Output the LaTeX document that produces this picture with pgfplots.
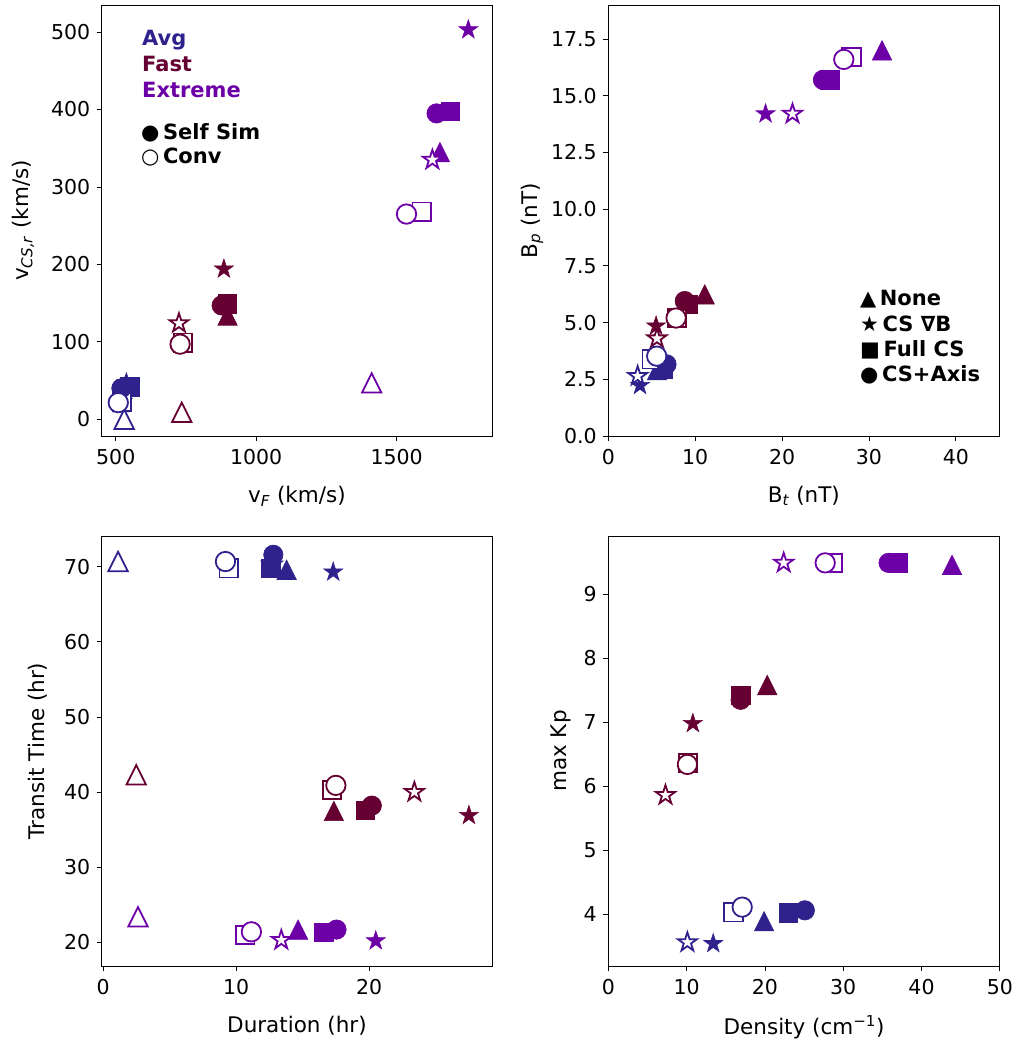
\documentclass[border=0pt]{standalone}
\usepackage{pgfplots}
\pgfplotsset{compat=1.18}
\usepackage{fontspec}
\setmainfont{DejaVu Sans}
\definecolor{cAvg}{RGB}{48,34,140}
\definecolor{cFast}{RGB}{102,0,51}
\definecolor{cExt}{RGB}{108,0,166}
\pgfdeclareplotmark{mtri}{%
 \pgfpathmoveto{\pgfqpoint{0pt}{\pgfplotmarksize}}%
 \pgfpathlineto{\pgfqpoint{-\pgfplotmarksize}{-\pgfplotmarksize}}%
 \pgfpathlineto{\pgfqpoint{\pgfplotmarksize}{-\pgfplotmarksize}}%
 \pgfpathclose\pgfusepathqfillstroke}
\pgfdeclareplotmark{mstar}{%
 \pgfpathmoveto{\pgfpointpolar{90}{\pgfplotmarksize}}%
 \pgfpathlineto{\pgfpointpolar{126}{0.381966*\pgfplotmarksize}}%
 \pgfpathlineto{\pgfpointpolar{162}{\pgfplotmarksize}}%
 \pgfpathlineto{\pgfpointpolar{198}{0.381966*\pgfplotmarksize}}%
 \pgfpathlineto{\pgfpointpolar{234}{\pgfplotmarksize}}%
 \pgfpathlineto{\pgfpointpolar{270}{0.381966*\pgfplotmarksize}}%
 \pgfpathlineto{\pgfpointpolar{306}{\pgfplotmarksize}}%
 \pgfpathlineto{\pgfpointpolar{342}{0.381966*\pgfplotmarksize}}%
 \pgfpathlineto{\pgfpointpolar{18}{\pgfplotmarksize}}%
 \pgfpathlineto{\pgfpointpolar{54}{0.381966*\pgfplotmarksize}}%
 \pgfpathclose\pgfusepathqfillstroke}
\pgfplotsset{
 every axis/.append style={
  scale only axis, anchor=south west,
  tick label style={font=\fontsize{20.5}{24}\selectfont},
  label style={font=\fontsize{21.5}{26}\selectfont},
  xticklabel style={yshift=-5pt},
  yticklabel style={xshift=-3pt},
  xlabel style={yshift=-14pt},
  /pgf/number format/assume math mode=true,
  /pgf/number format/1000 sep={},
  tick align=outside, major tick length=5pt,
  xtick pos=left, ytick pos=left,
  tick style={black, line width=0.8pt},
  axis line style={line width=0.9pt},
  minor tick num=0,
 },
 tri/.style={only marks, mark=mtri, mark size=9.7pt},
 sta/.style={only marks, mark=mstar, mark size=10pt},
 sqr/.style={only marks, mark=square*, mark size=9.2pt},
 cir/.style={only marks, mark=*, mark size=9.7pt},
 aF/.style={mark options={draw=cAvg, fill=cAvg, line width=0.6pt, solid}},
 aO/.style={mark options={draw=cAvg, fill=white, line width=1.8pt, solid}},
 fF/.style={mark options={draw=cFast, fill=cFast, line width=0.6pt, solid}},
 fO/.style={mark options={draw=cFast, fill=white, line width=1.8pt, solid}},
 eF/.style={mark options={draw=cExt, fill=cExt, line width=0.6pt, solid}},
 eO/.style={mark options={draw=cExt, fill=white, line width=1.8pt, solid}},
}
\newcommand\lf{\fontsize{21}{25}\selectfont\bfseries}
\begin{document}
\begin{tikzpicture}
\path[use as bounding box] (0pt,0pt) rectangle (1017pt,1044pt);
% ---------------- Panel 1 ----------------
\begin{axis}[at={(101.7pt,608pt)}, width=390.5pt, height=431pt,
 xmin=450, xmax=1840, ymin=-21.6, ymax=535,
 xtick={500,1000,1500}, ytick={0,100,200,300,400,500},
 ylabel style={yshift=10pt},
 xlabel={v\textsubscript{\textit{F}} (km/s)},
 ylabel={v\textsubscript{\textit{CS,r}} (km/s)}]
% None
\addplot[tri,aF] coordinates {(535,44)};
\addplot[tri,aO] coordinates {(530,0)};
\addplot[tri,fF] coordinates {(898,134)};
\addplot[tri,fO] coordinates {(735,9)};
\addplot[tri,eF] coordinates {(1654,345)};
\addplot[tri,eO] coordinates {(1411,47)};
% CS grad B
\addplot[sta,aF] coordinates {(538,47)};
\addplot[sta,aO] coordinates {(518,22)};
\addplot[sta,fF] coordinates {(885,194)};
\addplot[sta,fO] coordinates {(725,124)};
\addplot[sta,eF] coordinates {(1755,503)};
\addplot[sta,eO] coordinates {(1627,335)};
% Full CS
\addplot[sqr,aF] coordinates {(550,42)};
\addplot[sqr,aO] coordinates {(521,23)};
\addplot[sqr,fF] coordinates {(897,149)};
\addplot[sqr,fO] coordinates {(740,99)};
\addplot[sqr,eF] coordinates {(1690,398)};
\addplot[sqr,eO] coordinates {(1589,268)};
% CS+Axis
\addplot[cir,aF] coordinates {(520,40)};
\addplot[cir,aO] coordinates {(509,21.5)};
\addplot[cir,fF] coordinates {(877,147)};
\addplot[cir,fO] coordinates {(729,97)};
\addplot[cir,eF] coordinates {(1642,395)};
\addplot[cir,eO] coordinates {(1535,265)};
\end{axis}
% ---------------- Panel 2 ----------------
\begin{axis}[at={(608.3pt,608pt)}, width=391pt, height=431pt,
 xmin=0, xmax=45, ymin=0, ymax=19,
 xtick={0,10,20,30,40}, ytick={0,2.5,5,7.5,10,12.5,15,17.5},
 yticklabel style={/pgf/number format/.cd, fixed, fixed zerofill, precision=1},
 ylabel style={yshift=1pt},
 xlabel={B\textsubscript{\textit{t}} (nT)},
 ylabel={B\textsubscript{\textit{p}} (nT)}]
\addplot[tri,aF] coordinates {(5.6,2.9)};
\addplot[tri,fF] coordinates {(11.1,6.24)};
\addplot[tri,eF] coordinates {(31.5,17.0)};
\addplot[sta,aF] coordinates {(3.65,2.23)};
\addplot[sta,aO] coordinates {(3.38,2.64)};
\addplot[sta,fF] coordinates {(5.5,4.85)};
\addplot[sta,fO] coordinates {(5.6,4.3)};
\addplot[sta,eF] coordinates {(18.1,14.2)};
\addplot[sta,eO] coordinates {(21.2,14.2)};
\addplot[sqr,aF] coordinates {(6.3,2.94)};
\addplot[sqr,aO] coordinates {(5.0,3.38)};
\addplot[sqr,fF] coordinates {(9.2,5.8)};
\addplot[sqr,fO] coordinates {(7.9,5.2)};
\addplot[sqr,eF] coordinates {(25.5,15.7)};
\addplot[sqr,eO] coordinates {(28.0,16.7)};
\addplot[cir,aF] coordinates {(6.7,3.16)};
\addplot[cir,aO] coordinates {(5.57,3.52)};
\addplot[cir,fF] coordinates {(8.8,5.95)};
\addplot[cir,fO] coordinates {(7.8,5.2)};
\addplot[cir,eF] coordinates {(24.7,15.7)};
\addplot[cir,eO] coordinates {(27.1,16.6)};
\end{axis}
% ---------------- Panel 3 ----------------
\begin{axis}[at={(101.7pt,78pt)}, width=390.5pt, height=430pt,
 xmin=-0.1, xmax=29.25, ymin=16.85, ymax=74.1,
 xtick={0,10,20}, ytick={20,30,40,50,60,70},
 ylabel style={yshift=10pt},
 xlabel={Duration (hr)},
 ylabel={Transit Time (hr)}]
\addplot[tri,aF] coordinates {(13.8,69.6)};
\addplot[tri,aO] coordinates {(1.13,70.7)};
\addplot[tri,fF] coordinates {(17.35,37.5)};
\addplot[tri,fO] coordinates {(2.5,42.3)};
\addplot[tri,eF] coordinates {(14.66,21.7)};
\addplot[tri,eO] coordinates {(2.63,23.4)};
\addplot[sta,aF] coordinates {(17.3,69.3)};
\addplot[sta,aO] coordinates {(12.7,70.3)};
\addplot[sta,fF] coordinates {(27.5,36.9)};
\addplot[sta,fO] coordinates {(23.4,40.0)};
\addplot[sta,eF] coordinates {(20.5,20.2)};
\addplot[sta,eO] coordinates {(13.4,20.3)};
\addplot[sqr,aF] coordinates {(12.6,69.8)};
\addplot[sqr,aO] coordinates {(9.45,69.8)};
\addplot[sqr,fF] coordinates {(19.7,37.6)};
\addplot[sqr,fO] coordinates {(17.2,40.3)};
\addplot[sqr,eF] coordinates {(16.6,21.3)};
\addplot[sqr,eO] coordinates {(10.7,21.0)};
\addplot[cir,aF] coordinates {(12.8,71.6)};
\addplot[cir,aO] coordinates {(9.2,70.7)};
\addplot[cir,fF] coordinates {(20.2,38.2)};
\addplot[cir,fO] coordinates {(17.5,40.9)};
\addplot[cir,eF] coordinates {(17.55,21.7)};
\addplot[cir,eO] coordinates {(11.15,21.4)};
\end{axis}
% ---------------- Panel 4 ----------------
\begin{axis}[at={(608.3pt,78pt)}, width=391.5pt, height=430pt,
 xmin=0, xmax=50, ymin=3.19, ymax=9.91,
 xtick={0,10,20,30,40,50}, ytick={4,5,6,7,8,9},
 ylabel style={yshift=6pt},
 xlabel={Density (cm\textsuperscript{−1})},
 ylabel={max Kp}]
\addplot[tri,aF] coordinates {(19.9,3.89)};
\addplot[tri,fF] coordinates {(20.3,7.58)};
\addplot[tri,eF] coordinates {(43.9,9.46)};
\addplot[sta,aF] coordinates {(13.4,3.54)};
\addplot[sta,aO] coordinates {(10.1,3.56)};
\addplot[sta,fF] coordinates {(10.8,6.98)};
\addplot[sta,fO] coordinates {(7.3,5.86)};
\addplot[sta,eO] coordinates {(22.4,9.49)};
\addplot[sqr,aF] coordinates {(23.0,4.02)};
\addplot[sqr,aO] coordinates {(16.0,4.03)};
\addplot[sqr,fF] coordinates {(16.9,7.42)};
\addplot[sqr,fO] coordinates {(10.2,6.36)};
\addplot[sqr,eF] coordinates {(37.0,9.49)};
\addplot[sqr,eO] coordinates {(28.7,9.49)};
\addplot[cir,aF] coordinates {(25.1,4.06)};
\addplot[cir,aO] coordinates {(17.1,4.11)};
\addplot[cir,fF] coordinates {(16.9,7.35)};
\addplot[cir,fO] coordinates {(10.1,6.34)};
\addplot[cir,eF] coordinates {(35.8,9.49)};
\addplot[cir,eO] coordinates {(27.7,9.49)};
\end{axis}
% ---------------- text legends ----------------
\node[anchor=base west, inner sep=0pt, text=cAvg] at (142pt,998.3pt) {\lf Avg};
\node[anchor=base west, inner sep=0pt, text=cFast] at (142pt,972.3pt) {\lf Fast};
\node[anchor=base west, inner sep=0pt, text=cExt] at (142pt,946.3pt) {\lf Extreme};
\node[anchor=base west, inner sep=0pt] at (141pt,904pt) {\lf ●\,Self Sim};
\node[anchor=base west, inner sep=0pt] at (141pt,880pt) {\lf ○\,Conv};
\node[anchor=base west, inner sep=0pt] at (860pt,738.3pt) {\lf ▲\,None};
\node[anchor=base west, inner sep=0pt] at (860pt,712.3pt) {\lf ★\,CS ∇B};
\node[anchor=base west, inner sep=0pt] at (860pt,687.3pt) {\lf ■\,Full CS};
\node[anchor=base west, inner sep=0pt] at (860pt,662.3pt) {\lf ●\,CS+Axis};
\end{tikzpicture}
\end{document}
